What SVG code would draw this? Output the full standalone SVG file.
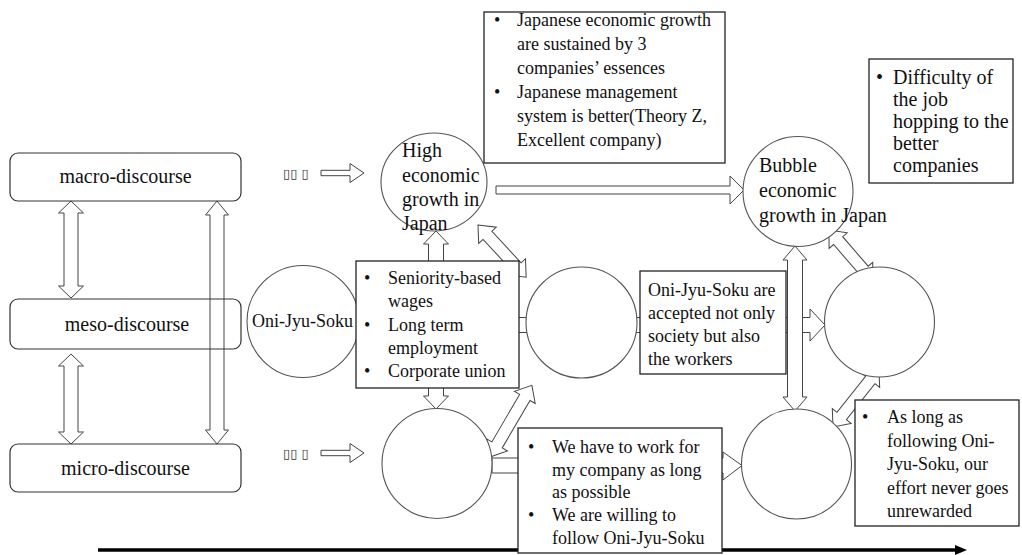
<svg xmlns="http://www.w3.org/2000/svg" width="1022" height="555" viewBox="0 0 1022 555">
  <style>
    text.t { font-family: 'Liberation Serif', Tinos, 'DejaVu Serif', serif; fill: #111; }
    .t20 { font-size: 20px; }
    .t18 { font-size: 18px; }
    .lvl { fill: none; stroke: #333; stroke-width: 1.2; }
    .circ { fill: #fff; stroke: #555; stroke-width: 1.1; }
    .box { fill: #fff; stroke: #222; stroke-width: 1.3; }
    .arr { fill: #fff; stroke: #444; stroke-width: 1; stroke-linejoin: miter; }
    text.tofu { font-family: 'DejaVu Sans', sans-serif; font-size: 13px; fill: #333; }
  </style>

  <!-- connectors (drawn beneath the nodes) -->
  <g id="connectors">
    <!-- long horizontal arrow through the middle row -->
    <polygon class="arr" points="359,317.5 810,317.5 810,309 825,325 810,341 810,332.5 359,332.5"/>
    <!-- high growth to bubble growth -->
    <polygon class="arr" points="496,186 730,186 730,176 744,190 730,204 730,194 496,194"/>
    <!-- bottom row arrow -->
    <polygon class="arr" points="492,458 723,458 723,452 742,465.5 723,480 723,473 492,473"/>
    <!-- entry arrows at top and bottom rows -->
    <polygon class="arr" points="321,170.3 350,170.3 350,163.5 364,173 350,182.5 350,175.7 321,175.7"/>
    <polygon class="arr" points="321,450.3 350,450.3 350,443.5 364,453 350,462.5 350,455.7 321,455.7"/>
    <!-- vertical double arrows between discourse levels -->
    <polygon class="arr" points="71,201 83.5,213 78,213 78,286 83.5,286 71,298 58.5,286 64,286 64,213 58.5,213"/>
    <polygon class="arr" points="71,354 83.5,366 78,366 78,432 83.5,432 71,444 58.5,432 64,432 64,366 58.5,366"/>
    <polygon class="arr" points="217,201 228.5,215 224,215 224,430 228.5,430 217,444 205.5,430 210,430 210,215 205.5,215"/>
    <!-- vertical double arrow, centre column -->
    <polygon class="arr" points="436,231 448.5,244 443.5,244 443.5,396 448.5,396 436,409 423.5,396 428.5,396 428.5,244 423.5,244"/>
    <!-- vertical double arrow, bubble column -->
    <polygon class="arr" points="795,246 807,260 802.5,260 802.5,397 807,397 795,411 783,397 787.5,397 787.5,260 783,260"/>
    <!-- diagonal double arrows -->
    <path class="arr" transform="translate(478,225) rotate(47.3)" d="M0,0 L14,-12 L14,-6 L57,-6 L57,-12 L71,0 L57,12 L57,6 L14,6 L14,12 Z"/>
    <path class="arr" transform="translate(490,457) rotate(-59.7)" d="M0,0 L14,-12 L14,-6 L69,-6 L69,-12 L83,0 L69,12 L69,6 L14,6 L14,12 Z"/>
    <path class="arr" transform="translate(829,230) rotate(49.2)" d="M0,0 L14,-12 L14,-6 L53,-6 L53,-12 L67,0 L53,12 L53,6 L14,6 L14,12 Z"/>
    <path class="arr" transform="translate(833,427) rotate(-51.6)" d="M0,0 L14,-12 L14,-6 L60,-6 L60,-12 L74,0 L60,12 L60,6 L14,6 L14,12 Z"/>
    <!-- time axis -->
    <line x1="98" y1="550" x2="957" y2="550" stroke="#000" stroke-width="3.5"/>
    <polygon points="955,545 967,550 955,555" fill="#000"/>
  </g>

  <!-- discourse levels -->
  <g id="macro">
    <rect class="lvl" x="10" y="153" width="231" height="48" rx="8"/>
    <text class="t t20" x="125.5" y="183" text-anchor="middle">macro-discourse</text>
  </g>
  <g id="meso">
    <rect class="lvl" x="10" y="299" width="231" height="50" rx="8"/>
    <text class="t t20" x="127" y="331" text-anchor="middle">meso-discourse</text>
  </g>
  <g id="micro">
    <rect class="lvl" x="10" y="444" width="231" height="48" rx="8"/>
    <text class="t t20" x="125.5" y="475" text-anchor="middle">micro-discourse</text>
  </g>

  <!-- unrendered label glyphs next to the entry arrows -->
  <g id="marks">
    <text class="tofu" x="283" y="178">▯▯ ▯</text>
    <text class="tofu" x="283" y="458">▯▯ ▯</text>
  </g>

  <!-- circles -->
  <g id="high-growth">
    <ellipse class="circ" cx="434" cy="182" rx="53" ry="49"/>
    <text class="t t20" x="402" y="157">High</text>
    <text class="t t20" x="402" y="182">economic</text>
    <text class="t t20" x="402" y="206">growth in</text>
    <text class="t t20" x="402" y="230">Japan</text>
  </g>
  <g id="oni-jyu-soku">
    <circle class="circ" cx="303" cy="321.5" r="56"/>
    <text class="t t18" x="252" y="327">Oni-Jyu-Soku</text>
  </g>
  <g id="meso-circle">
    <circle class="circ" cx="581.5" cy="322.5" r="55.5"/>
  </g>
  <g id="micro-circle">
    <circle class="circ" cx="437" cy="463.5" r="55"/>
  </g>
  <g id="bubble-growth">
    <circle class="circ" cx="798" cy="191.5" r="55"/>
    <text class="t t20" x="759" y="172">Bubble</text>
    <text class="t t20" x="759" y="197">economic</text>
    <text class="t t20" x="759" y="222">growth in Japan</text>
  </g>
  <g id="bubble-meso-circle">
    <circle class="circ" cx="879.5" cy="322" r="55"/>
  </g>
  <g id="bubble-micro-circle">
    <circle class="circ" cx="796.5" cy="464" r="55"/>
  </g>

  <!-- text boxes -->
  <g id="macro-note">
    <rect class="box" x="484" y="12" width="241" height="151"/>
    <text class="t t18" x="494" y="26">•</text>
    <text class="t t18" x="494" y="98">•</text>
    <text class="t t18" x="517" y="26">Japanese economic growth</text>
    <text class="t t18" x="517" y="50">are sustained by 3</text>
    <text class="t t18" x="517" y="74">companies’ essences</text>
    <text class="t t18" x="517" y="98">Japanese management</text>
    <text class="t t18" x="517" y="122">system is better(Theory Z,</text>
    <text class="t t18" x="517" y="146">Excellent company)</text>
  </g>
  <g id="bubble-note">
    <rect class="box" x="869" y="59" width="144" height="124"/>
    <text class="t t20" x="876" y="84">•</text>
    <text class="t t20" x="893" y="84">Difficulty of</text>
    <text class="t t20" x="893" y="106">the job</text>
    <text class="t t20" x="893" y="128">hopping to the</text>
    <text class="t t20" x="893" y="150">better</text>
    <text class="t t20" x="893" y="172">companies</text>
  </g>
  <g id="practices">
    <rect class="box" x="356" y="261" width="163" height="127"/>
    <text class="t t18" x="364" y="284">•</text>
    <text class="t t18" x="364" y="331">•</text>
    <text class="t t18" x="364" y="377">•</text>
    <text class="t t18" x="388" y="284">Seniority-based</text>
    <text class="t t18" x="388" y="307">wages</text>
    <text class="t t18" x="388" y="331">Long term</text>
    <text class="t t18" x="388" y="354">employment</text>
    <text class="t t18" x="388" y="377">Corporate union</text>
  </g>
  <g id="meso-note">
    <rect class="box" x="640" y="271" width="146" height="103"/>
    <text class="t t18" x="648" y="296">Oni-Jyu-Soku are</text>
    <text class="t t18" x="648" y="319">accepted not only</text>
    <text class="t t18" x="648" y="342">society but also</text>
    <text class="t t18" x="648" y="365">the workers</text>
  </g>
  <g id="micro-note">
    <rect class="box" x="518" y="428" width="204" height="125"/>
    <text class="t t18" x="528" y="453">•</text>
    <text class="t t18" x="528" y="521">•</text>
    <text class="t t18" x="552" y="453">We have to work for</text>
    <text class="t t18" x="552" y="476">my company as long</text>
    <text class="t t18" x="552" y="498">as possible</text>
    <text class="t t18" x="552" y="521">We are willing to</text>
    <text class="t t18" x="552" y="544">follow Oni-Jyu-Soku</text>
  </g>
  <g id="effort-note">
    <rect class="box" x="855" y="400" width="164" height="126"/>
    <text class="t t18" x="862" y="423">•</text>
    <text class="t t18" x="887" y="423">As long as</text>
    <text class="t t18" x="887" y="447">following Oni-</text>
    <text class="t t18" x="887" y="470">Jyu-Soku, our</text>
    <text class="t t18" x="887" y="494">effort never goes</text>
    <text class="t t18" x="887" y="517">unrewarded</text>
  </g>
</svg>
